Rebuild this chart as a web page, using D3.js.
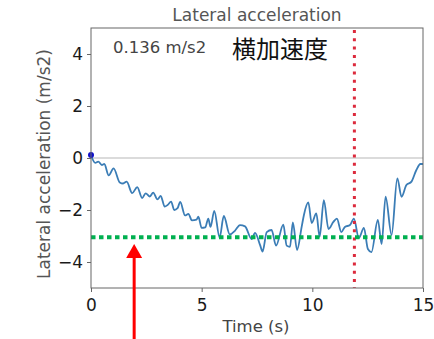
<!DOCTYPE html>
<html>
<head>
<meta charset="utf-8">
<script src="https://cdn.jsdelivr.net/npm/d3@7"></script>
<style>
  html, body { margin: 0; padding: 0; background: #fff; }
  svg { display: block; font-family: "DejaVu Sans", sans-serif; }
</style>
</head>
<body>
<svg id="chart" width="434" height="339"></svg>
<script>
// Lateral acceleration trace (time in s, acceleration in m/s2)
const timeS = [0.00, 0.19, 0.33, 0.49, 0.60, 0.80, 1.02, 1.30, 1.45, 1.61, 1.86, 2.09, 2.31, 2.47, 2.66, 2.81,
  3.00, 3.15, 3.33, 3.46, 3.62, 3.76, 3.91, 4.03, 4.25, 4.40, 4.56, 4.77, 4.85, 5.00, 5.16, 5.30,
  5.40, 5.57, 5.81, 6.00, 6.27, 6.51, 6.73, 6.96, 7.26, 7.41, 7.64, 7.75, 7.94, 8.16, 8.36, 8.69,
  8.84, 8.99, 9.12, 9.31, 9.52, 9.62, 9.82, 9.97, 10.18, 10.33, 10.52, 10.73, 10.95, 11.11, 11.31,
  11.47, 11.70, 11.88, 12.10, 12.33, 12.51, 12.67, 12.96, 13.13, 13.31, 13.58, 13.84, 14.03, 14.25,
  14.48, 14.70, 14.88, 15.00];
const accel = [0.10, -0.19, -0.14, -0.27, -0.23, -0.67, -0.40, -0.94, -0.98, -0.91, -1.35, -1.12, -1.54, -1.36, -1.48, -1.33,
  -1.59, -1.46, -1.87, -1.81, -1.68, -2.00, -1.93, -1.69, -2.21, -2.15, -2.40, -2.37, -2.26, -2.69, -2.67, -2.33,
  -2.65, -2.03, -3.06, -2.23, -2.94, -2.79, -2.58, -2.63, -3.12, -2.88, -3.35, -3.60, -2.85, -2.77, -3.37, -2.56,
  -3.37, -3.42, -2.48, -3.54, -2.64, -2.19, -1.71, -2.50, -2.13, -3.03, -1.62, -2.73, -2.46, -2.33, -2.85,
  -2.65, -2.58, -2.33, -3.08, -2.69, -3.50, -3.62, -2.38, -3.31, -1.49, -2.96, -0.78, -1.49, -1.04,
  -0.91, -0.46, -0.23, -0.23];

const xTicks = [0, 5, 10, 15];
const yTicks = [-4, -2, 0, 2, 4];
const xDomain = [0, 15];
const yDomain = [-5, 5];

const markerTime = 11.9;      // vertical red dotted marker
const thresholdAccel = -3.05; // horizontal green dotted level
const arrowTime = 1.95;       // red arrow position
const startPoint = { t: 0, v: 0.12 };

const titleText = "Lateral acceleration";
const xLabel = "Time (s)";
const yLabel = "Lateral acceleration (m/s2)";
const valueNote = "0.136 m/s2";
const jpNote = "横加速度";

const svg = d3.select("#chart");
const margin = { left: 91, right: 11, top: 28, bottom: 51 };
const W = 434, H = 339;
const x = d3.scaleLinear().domain(xDomain).range([margin.left, W - margin.right]);
const y = d3.scaleLinear().domain(yDomain).range([H - margin.bottom, margin.top]);

const defs = svg.append("defs");
defs.append("clipPath").attr("id", "plotClip")
  .append("rect")
  .attr("x", x(xDomain[0])).attr("y", y(yDomain[1]))
  .attr("width", x(xDomain[1]) - x(xDomain[0]))
  .attr("height", y(yDomain[0]) - y(yDomain[1]));

// zero reference line
svg.append("line")
  .attr("x1", x(xDomain[0])).attr("x2", x(xDomain[1]))
  .attr("y1", y(0)).attr("y2", y(0))
  .attr("stroke", "#cfcfcf").attr("stroke-width", 1.5);

// acceleration trace
const data = timeS.map((t, i) => ({ t, v: accel[i] }));
const line = d3.line().x(d => x(d.t)).y(d => y(d.v)).curve(d3.curveMonotoneX);
svg.append("path")
  .datum(data)
  .attr("clip-path", "url(#plotClip)")
  .attr("fill", "none")
  .attr("stroke", "#3b7db6")
  .attr("stroke-width", 1.8)
  .attr("stroke-linejoin", "round")
  .attr("d", line);

// start point
svg.append("circle")
  .attr("cx", x(startPoint.t)).attr("cy", y(startPoint.v))
  .attr("r", 3).attr("fill", "#1010c8");

// vertical marker
svg.append("line")
  .attr("x1", x(markerTime)).attr("x2", x(markerTime))
  .attr("y1", y(yDomain[1]) + 2).attr("y2", y(yDomain[0]))
  .attr("stroke", "#dc2a3c").attr("stroke-width", 3)
  .attr("stroke-dasharray", "3,5.3");

// threshold level
svg.append("line")
  .attr("x1", x(xDomain[0])).attr("x2", x(xDomain[1]))
  .attr("y1", y(thresholdAccel)).attr("y2", y(thresholdAccel))
  .attr("stroke", "#00b050").attr("stroke-width", 4)
  .attr("stroke-dasharray", "4.5,3.5");

// frame
svg.append("rect")
  .attr("x", x(xDomain[0])).attr("y", y(yDomain[1]))
  .attr("width", x(xDomain[1]) - x(xDomain[0]))
  .attr("height", y(yDomain[0]) - y(yDomain[1]))
  .attr("fill", "none").attr("stroke", "#666").attr("stroke-width", 1);

// axes
const xAxis = svg.append("g")
  .attr("transform", `translate(0,${y(yDomain[0])})`)
  .call(d3.axisBottom(x).tickValues(xTicks).tickSize(4).tickPadding(4).tickFormat(d3.format("d")));
const yAxis = svg.append("g")
  .attr("transform", `translate(${x(xDomain[0])},0)`)
  .call(d3.axisLeft(y).tickValues(yTicks).tickSize(4).tickPadding(4).tickFormat(d3.format("d")));
[xAxis, yAxis].forEach(g => {
  g.select(".domain").remove();
  g.selectAll(".tick line").attr("stroke", "#666");
  g.selectAll(".tick text")
    .attr("fill", "#1a1a1a")
    .style("font-size", "17px")
    .style("font-family", "\"DejaVu Sans\", sans-serif");
});
xAxis.selectAll(".tick text").attr("dy", "0.9em");

// title and labels
svg.append("text")
  .attr("x", (x(xDomain[0]) + x(xDomain[1])) / 2).attr("y", 20.5)
  .attr("text-anchor", "middle")
  .attr("fill", "#555").style("font-size", "17px")
  .text(titleText);

svg.append("text")
  .attr("x", 256).attr("y", 331.5)
  .attr("text-anchor", "middle")
  .attr("fill", "#444").style("font-size", "16.5px")
  .text(xLabel);

svg.append("text")
  .attr("transform", `translate(50,164) rotate(-90)`)
  .attr("text-anchor", "middle")
  .attr("fill", "#555").style("font-size", "17px")
  .text(yLabel);

svg.append("text")
  .attr("x", 113).attr("y", 53)
  .attr("fill", "#444").style("font-size", "16.5px")
  .text(valueNote);

svg.append("text")
  .attr("x", 232).attr("y", 58)
  .attr("fill", "#111").style("font-size", "24px")
  .style("font-family", "\"Noto Sans CJK JP\", sans-serif")
  .text(jpNote);

// red arrow
const ax = x(arrowTime);
svg.append("line")
  .attr("x1", ax).attr("x2", ax)
  .attr("y1", 256).attr("y2", H)
  .attr("stroke", "#ff0000").attr("stroke-width", 3);
svg.append("path")
  .attr("d", `M${ax},244 L${ax - 8},258 L${ax + 8},258 Z`)
  .attr("fill", "#ff0000");
</script>
</body>
</html>
